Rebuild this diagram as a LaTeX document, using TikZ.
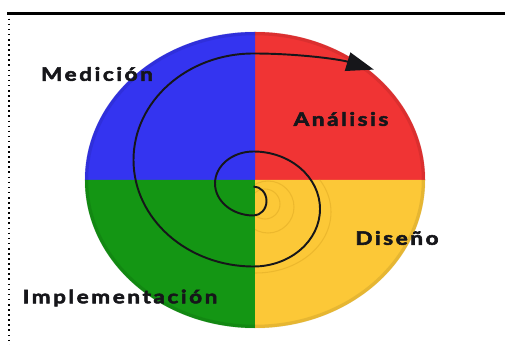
\documentclass[tikz,border=0pt]{standalone}
\usepackage{fontspec}
\usepackage{tikz}
\usetikzlibrary{arrows.meta,positioning,calc}
\newfontfamily\phasefont{Lato}[LetterSpace=14,FakeStretch=1.22,BoldFeatures={FakeBold=3}]
\definecolor{quadblue}{HTML}{3434F0}
\definecolor{quadred}{HTML}{F03434}
\definecolor{quadgreen}{HTML}{149614}
\definecolor{quadyellow}{HTML}{FCC837}
\definecolor{ink}{HTML}{16161A}
\definecolor{ripple}{HTML}{C99418}

\begin{document}
\begin{tikzpicture}[
    phase/.style={font=\phasefont\bfseries\fontsize{10.5}{12}\selectfont,text=ink,inner sep=1pt},
    frame/.style={draw=black,line width=1.4pt},
    swirl/.style={draw=ink,line width=1.1pt,-{Triangle[length=0.55cm,width=0.38cm]}},
    ring/.style={draw=ripple,line width=0.6pt,opacity=0.3}]
  \useasboundingbox (0,0) rectangle (10.1,6.9);
  \coordinate (c) at (5.10,3.30);
  % four coloured quarters of the disk
  \foreach \col/\a in {quadred/0,quadblue/90,quadgreen/180,quadyellow/270}
    \fill[\col] (c) -- ($(c)+(\a:3.4 and 2.96)$)
      arc[start angle=\a,end angle=\a+90,x radius=3.4,y radius=2.96] -- cycle;
  % darker rim
  \foreach \col/\a in {quadred/0,quadblue/90,quadgreen/180,quadyellow/270}
    \draw[\col!75!black,line width=2pt,opacity=0.35] ($(c)+(\a:3.37 and 2.93)$)
      arc[start angle=\a,end angle=\a+90,x radius=3.37,y radius=2.93];
  % faint ripples in the yellow quarter
  \begin{scope}
    \clip (c) rectangle (8.6,0.2);
    \draw[ring] (5.30,2.82) circle[radius=0.30];
    \draw[ring] (5.36,2.76) circle[radius=0.52];
    \draw[ring] (5.12,2.66) ellipse[x radius=1.50,y radius=1.22];
  \end{scope}
  % spiral
  \draw[swirl] (5.07,3.17)
      arc[start angle=90,end angle=-90,x radius=0.26,y radius=0.29]
      arc[start angle=-90,end angle=-270,x radius=0.77,y radius=0.64]
      arc[start angle=90,end angle=-90,x radius=1.33,y radius=1.15]
      arc[start angle=-90,end angle=-270,x radius=2.40,y radius=2.13]
      arc[start angle=90,end angle=53,x radius=4.0,y radius=1.6];
  % labels
  \node[phase] (med) at (1.94,5.42) {Medición};
  \node[phase] (ana) at (6.82,4.52) {Análisis};
  \node[phase] (dis) at (7.94,2.14) {Diseño};
  \node[phase] (imp) at (2.40,0.94) {Implementación};
  % frame
  \coordinate (tl) at (0.18,6.63);
  \draw[frame] ([xshift=-0.04cm]tl) -- (10.1,6.63);
  \draw[black,line width=0.9pt,dotted] (tl) -- (0.18,0);
\end{tikzpicture}
\end{document}
